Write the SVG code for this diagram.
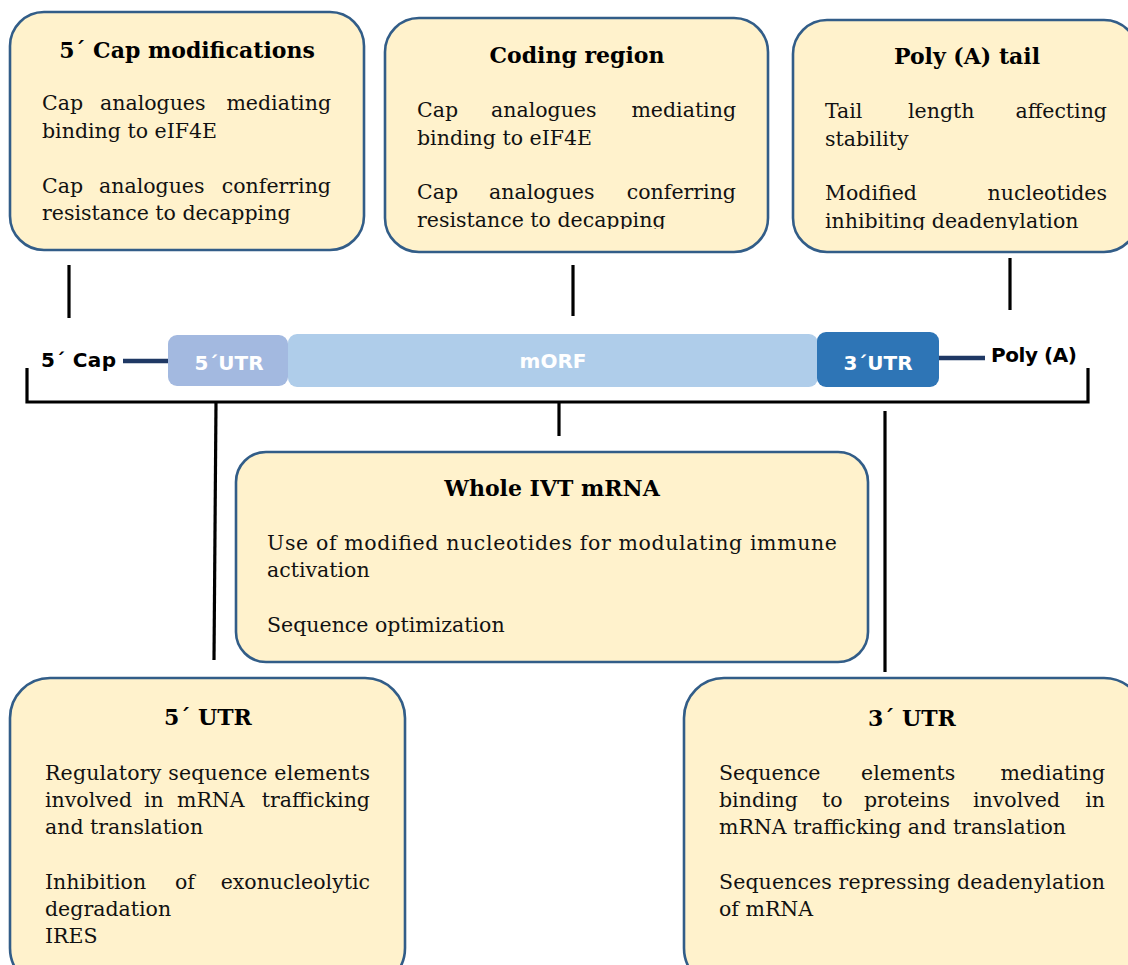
<svg xmlns="http://www.w3.org/2000/svg" width="1128" height="965" viewBox="0 0 1128 965">
<style>
.box{fill:#fff2cc;stroke:#325d88;stroke-width:2.6}
.t{font-family:"DejaVu Serif","Liberation Serif",serif;font-size:22px;font-weight:bold;fill:#000;text-anchor:middle}
.b{font-family:"DejaVu Serif","Liberation Serif",serif;font-size:20.5px;fill:#111}
.e{text-anchor:end}
.lbl{font-family:"DejaVu Sans","Liberation Sans",sans-serif;font-size:20px;font-weight:bold;fill:#000}
.seg{font-family:"DejaVu Sans","Liberation Sans",sans-serif;font-size:20px;font-weight:bold;fill:#fff;text-anchor:middle}
.c{stroke:#000;stroke-width:3.2;fill:none}
.tail{stroke:#1f3864;stroke-width:4.5}
</style>
<defs>
<clipPath id="clip2"><rect x="385" y="18" width="383" height="211"/></clipPath>
<clipPath id="clip3"><rect x="793" y="20" width="345" height="210"/></clipPath>
</defs>

<g id="connectors">
<line class="c" x1="69" y1="265" x2="69" y2="318"/>
<line class="c" x1="573" y1="265" x2="573" y2="316"/>
<line class="c" x1="1010" y1="258" x2="1010" y2="310"/>
<polyline class="c" points="27,368 27,402 1088,402 1088,368"/>
<line class="c" x1="559" y1="402" x2="559" y2="436"/>
<line class="c" x1="216" y1="402" x2="214" y2="660"/>
<line class="c" x1="885" y1="411" x2="885" y2="672"/>
</g>

<g id="mrna">
<text class="lbl" x="41" y="367" textLength="75" lengthAdjust="spacing">5´ Cap</text>
<line class="tail" x1="123" y1="361" x2="170" y2="361"/>
<line class="tail" x1="937" y1="358" x2="985" y2="358"/>
<text class="lbl" x="991" y="362" textLength="86" lengthAdjust="spacing">Poly (A)</text>
<rect x="288" y="334" width="530" height="53" rx="9" fill="#afcdea"/>
<rect x="168" y="335" width="120" height="51" rx="9" fill="#a3b9e0"/>
<rect x="817" y="332" width="122" height="55" rx="9" fill="#2e75b6"/>
<text class="seg" x="229" y="370">5´UTR</text>
<text class="seg" x="553" y="368">mORF</text>
<text class="seg" x="878" y="370">3´UTR</text>
</g>

<g id="cap5">
<rect class="box" x="10" y="12" width="354" height="238" rx="34"/>
<text class="t" x="187" y="58">5´ Cap modifications</text>
<text class="b" x="42" y="110">Cap</text><text class="b" x="100" y="110">analogues</text><text class="b e" x="331" y="110">mediating</text>
<text class="b" x="42" y="138">binding to eIF4E</text>
<text class="b" x="42" y="193">Cap</text><text class="b" x="99" y="193">analogues</text><text class="b e" x="331" y="193">conferring</text>
<text class="b" x="42" y="220">resistance to decapping</text>
</g>

<g id="coding">
<rect class="box" x="385" y="18" width="383" height="234" rx="34"/>
<text class="t" x="577" y="63">Coding region</text>
<g clip-path="url(#clip2)">
<text class="b" x="417" y="117">Cap</text><text class="b" x="491" y="117">analogues</text><text class="b e" x="736" y="117">mediating</text>
<text class="b" x="417" y="145">binding to eIF4E</text>
<text class="b" x="417" y="199">Cap</text><text class="b" x="489" y="199">analogues</text><text class="b e" x="736" y="199">conferring</text>
<text class="b" x="417" y="227">resistance to decapping</text>
</g>
</g>

<g id="polya">
<rect class="box" x="793" y="20" width="345" height="232" rx="34"/>
<text class="t" x="967" y="64">Poly (A) tail</text>
<g clip-path="url(#clip3)">
<text class="b" x="825" y="118">Tail</text><text class="b" x="908" y="118">length</text><text class="b e" x="1107" y="118">affecting</text>
<text class="b" x="825" y="146">stability</text>
<text class="b" x="825" y="200">Modified</text><text class="b e" x="1107" y="200">nucleotides</text>
<text class="b" x="825" y="228">inhibiting deadenylation</text>
</g>
</g>

<g id="whole">
<rect class="box" x="236" y="452" width="632" height="210" rx="30"/>
<text class="t" x="552" y="496">Whole IVT mRNA</text>
<text class="b" x="267" y="550" textLength="570" lengthAdjust="spacing">Use of modified nucleotides for modulating immune</text>
<text class="b" x="267" y="577">activation</text>
<text class="b" x="267" y="632">Sequence optimization</text>
</g>

<g id="utr5">
<rect class="box" x="10" y="678" width="395" height="310" rx="40"/>
<text class="t" x="208" y="725">5´ UTR</text>
<text class="b" x="45" y="780" textLength="325" lengthAdjust="spacing">Regulatory sequence elements</text>
<text class="b" x="45" y="807">involved</text><text class="b" x="144" y="807">in</text><text class="b" x="177" y="807">mRNA</text><text class="b e" x="370" y="807">trafficking</text>
<text class="b" x="45" y="834">and translation</text>
<text class="b" x="45" y="889">Inhibition</text><text class="b" x="175" y="889">of</text><text class="b e" x="370" y="889">exonucleolytic</text>
<text class="b" x="45" y="916">degradation</text>
<text class="b" x="45" y="943">IRES</text>
</g>

<g id="utr3">
<rect class="box" x="684" y="678" width="460" height="310" rx="40"/>
<text class="t" x="912" y="726">3´ UTR</text>
<text class="b" x="719" y="780">Sequence</text><text class="b" x="861" y="780">elements</text><text class="b e" x="1105" y="780">mediating</text>
<text class="b" x="719" y="807">binding</text><text class="b" x="822" y="807">to</text><text class="b" x="864" y="807">proteins</text><text class="b" x="973" y="807">involved</text><text class="b e" x="1105" y="807">in</text>
<text class="b" x="719" y="834">mRNA trafficking and translation</text>
<text class="b" x="719" y="889" textLength="386" lengthAdjust="spacing">Sequences repressing deadenylation</text>
<text class="b" x="719" y="916">of mRNA</text>
</g>
</svg>
